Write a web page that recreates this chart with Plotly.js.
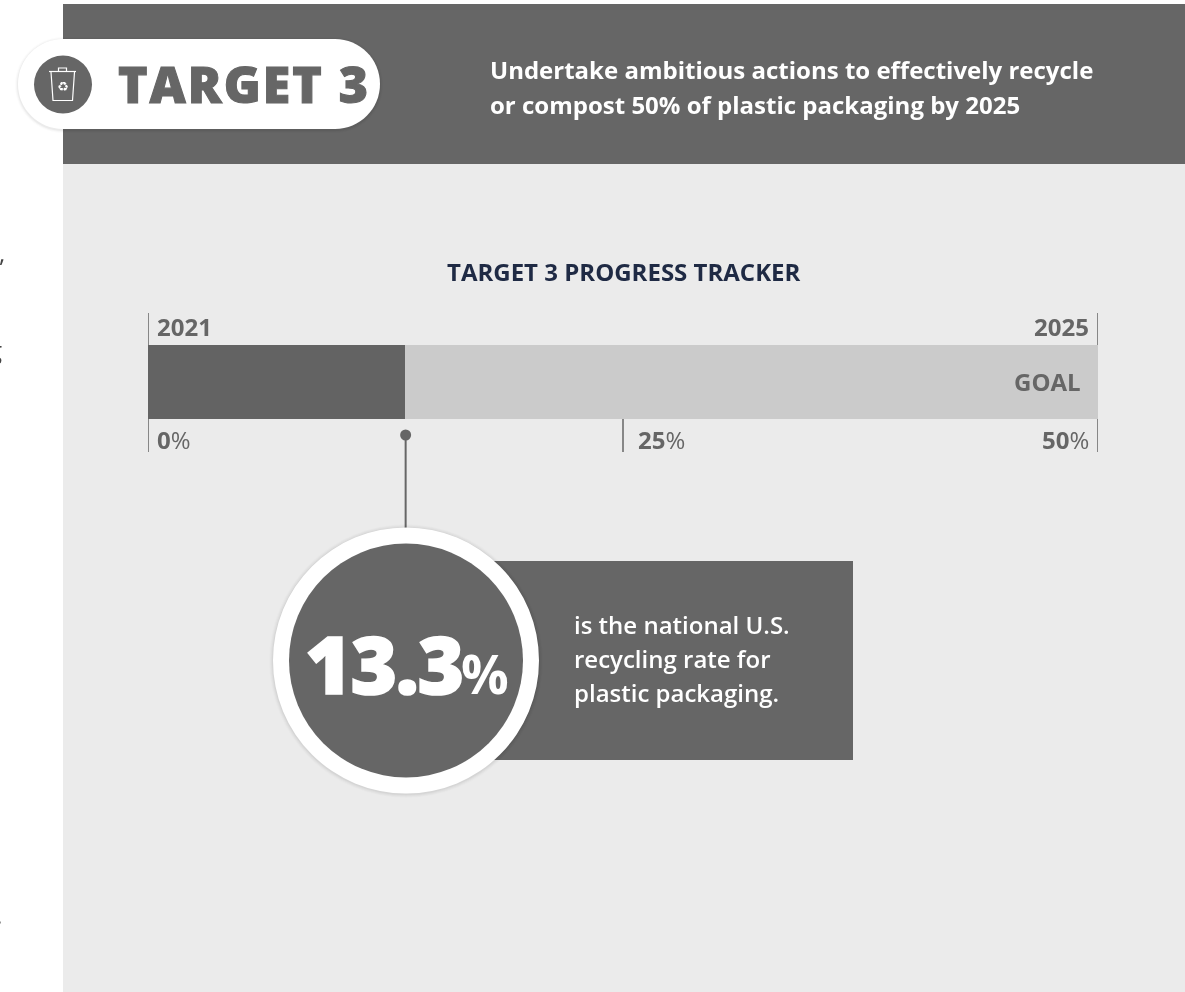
<!DOCTYPE html>
<html><head><meta charset="utf-8">
<script src="https://cdn.plot.ly/plotly-3.0.1.min.js"></script>
<style>html,body{margin:0;padding:0;background:#fff;overflow:hidden}#c{width:1185px;height:992px;will-change:transform}
.annotation[data-index="1"] text{stroke:#666;stroke-width:1.1px;letter-spacing:2px}
.annotation[data-index="11"] text{stroke:#fff;stroke-width:1.6px;letter-spacing:-1.5px}
</style>
</head><body><div id="c"></div>
<script>
const trackCategory = ['Target 3'];
const progressValue = [13.53];
const goalRemainder = [36.47];
const statedRate = '13.3';
const scaleTicks = [0, 25, 50];
const scaleLabels = ['0', '25', '50'];
const yearLabels = ['2021', '2025'];
const yearTicks = [0, 50];
const markerValue = 13.56;

const W = 1185, H = 992, DARK = '#666666', FONT = '"Open Sans", sans-serif';
const fx = p => p / W, fy = p => 1 - p / H;

function rect(x0, y0, x1, y1, fill, layer) {
  return {type:'rect', xref:'paper', yref:'paper', x0:fx(x0), x1:fx(x1), y0:fy(y0), y1:fy(y1),
          fillcolor:fill, line:{width:0}, layer:layer||'above'};
}
function circle(cx, cy, r, fill, opacity) {
  return {type:'circle', xref:'paper', yref:'paper', x0:fx(cx-r), x1:fx(cx+r), y0:fy(cy+r), y1:fy(cy-r),
          fillcolor:fill, opacity:opacity==null?1:opacity, line:{width:0}, layer:'above'};
}
function pill(x0, y0, x1, y1, fill, opacity) {
  const r = (y1-y0)/2, k = r*0.5523;
  const P = (x,y) => fx(x)+','+fy(y);
  const d = 'M'+P(x0+r,y0)+' L'+P(x1-r,y0)+
    ' C'+P(x1-r+k,y0)+' '+P(x1,y0+r-k)+' '+P(x1,y0+r)+
    ' C'+P(x1,y0+r+k)+' '+P(x1-r+k,y1)+' '+P(x1-r,y1)+
    ' L'+P(x0+r,y1)+
    ' C'+P(x0+r-k,y1)+' '+P(x0,y0+r+k)+' '+P(x0,y0+r)+
    ' C'+P(x0,y0+r-k)+' '+P(x0+r-k,y0)+' '+P(x0+r,y0)+' Z';
  return {type:'path', xref:'paper', yref:'paper', path:d, fillcolor:fill, opacity:opacity==null?1:opacity, line:{width:0}, layer:'above'};
}
function seg(pts, color, width) {
  const d = pts.map((p,i)=>(i?'L':'M')+fx(p[0])+','+fy(p[1])).join(' ');
  return {type:'path', xref:'paper', yref:'paper', path:d, line:{color:color,width:width}, layer:'above'};
}
function vTick(v, y0, y1, color, width) {
  return {type:'line', xref:'x', yref:'paper', x0:v, x1:v, y0:fy(y0), y1:fy(y1),
          line:{color:color||DARK, width:width||1.5}, layer:'above'};
}
function txt(text, x, y, size, color, anchor, weight, extra) {
  return Object.assign({xref:'paper', yref:'paper', x:fx(x), y:fy(y), text:text, showarrow:false,
    xanchor:anchor||'left', yanchor:'middle', align:anchor||'left',
    font:{family:FONT, size:size, color:color, weight:weight||400}}, extra||{});
}

const shapes = [
  rect(63, 4, W, 164, DARK, 'below'),
  rect(63, 164, W, H, '#ebebeb', 'below'),
];
// pill with soft shadow
[[3,.015],[2,.025],[1,.04]].forEach(s => shapes.push(pill(18-s[0], 39-s[0]+1, 380+s[0], 129+s[0]+1, '#000', s[1])));
shapes.push(pill(18, 39, 380, 129, '#ffffff'));
shapes.push(circle(63, 84.5, 29, DARK));
// bin icon
shapes.push(seg([[49,71.5],[76,71.5]], '#fff', 1.2));
shapes.push(seg([[58.5,71],[58.5,68],[66.5,68],[66.5,71]], '#fff', 1.2));
shapes.push(seg([[51,72],[53,100.5],[72.5,100.5],[74.5,72]], '#fff', 1.2));

// scale ticks
yearTicks.forEach(v => shapes.push(vTick(v, 313, 345)));
scaleTicks.forEach(v => shapes.push(vTick(v, 419, 452)));
// pointer
shapes.push(vTick(markerValue, 435, 530, DARK, 2));
shapes.push({type:'circle', xref:'x', yref:'paper', xsizemode:'pixel', xanchor:markerValue,
  x0:-5.5, x1:5.5, y0:fy(440.5), y1:fy(429.5), fillcolor:DARK, line:{width:0}, layer:'above'});
// callout
shapes.push(rect(490, 561, 853, 760, DARK));
[[4,.012],[3,.018],[2,.025],[1,.035]].forEach(s => shapes.push(circle(406, 661, 133+s[0], '#000', s[1])));
shapes.push(circle(406, 660.5, 133, '#ffffff'));
shapes.push(circle(406, 660.5, 117, DARK));

const annotations = [
  txt('♻', 63, 87, 13, '#fff', 'center', 400, {font:{family:'"DejaVu Sans"', size:13, color:'#fff'}}),
  txt('TARGET 3', 116, 84, 50, DARK, 'left', 800),
  txt('Undertake ambitious actions to effectively recycle', 488, 69.5, 24, '#fff', 'left', 700),
  txt('or compost 50% of plastic packaging by 2025', 488, 104, 24, '#fff', 'left', 700),
  txt('TARGET 3 PROGRESS TRACKER', 624, 271, 24, '#1f2a44', 'center', 700),
  txt(yearLabels[0], 155, 326, 24, DARK, 'left', 700),
  txt(yearLabels[1], 1091, 326, 24, DARK, 'right', 700),
  txt('GOAL', 1083, 381.5, 24, DARK, 'right', 700),
  txt('<b>'+scaleLabels[0]+'</b>%', 155, 439, 24, DARK, 'left', 400),
  txt('<b>'+scaleLabels[1]+'</b>%', 636, 439, 24, DARK, 'left', 400),
  txt('<b>'+scaleLabels[2]+'</b>%', 1091, 439, 24, DARK, 'right', 400),
  txt(statedRate, 303, 662, 80, '#fff', 'left', 800),
  txt('%', 459, 673, 53, '#fff', 'left', 700),
  txt('is the national U.S.', 572, 624, 24, '#fff', 'left', 600),
  txt('recycling rate for', 572, 658, 24, '#fff', 'left', 600),
  txt('plastic packaging.', 572, 692, 24, '#fff', 'left', 600),
  txt(',', -3, 252, 24, '#444', 'left', 400),
  txt('g', -13, 350, 24, '#444', 'left', 400),
  txt('.', -6, 914, 24, '#444', 'left', 400),
];

const data = [
  {type:'bar', orientation:'h', y:trackCategory, x:progressValue, marker:{color:'#636363', line:{width:0}}, hoverinfo:'skip'},
  {type:'bar', orientation:'h', y:trackCategory, x:goalRemainder, marker:{color:'#cbcbcb', line:{width:0}}, hoverinfo:'skip'},
];
const layout = {
  width:W, height:H, margin:{l:0,r:0,t:0,b:0}, paper_bgcolor:'#ffffff', plot_bgcolor:'rgba(0,0,0,0)',
  barmode:'stack', bargap:0, showlegend:false,
  xaxis:{domain:[fx(148),fx(1098)], range:[0,50], visible:false, fixedrange:true},
  yaxis:{domain:[fy(419),fy(345)], visible:false, fixedrange:true, type:'category'},
  shapes:shapes, annotations:annotations,
};
Plotly.newPlot('c', data, layout, {displayModeBar:false, staticPlot:true});
</script></body></html>
